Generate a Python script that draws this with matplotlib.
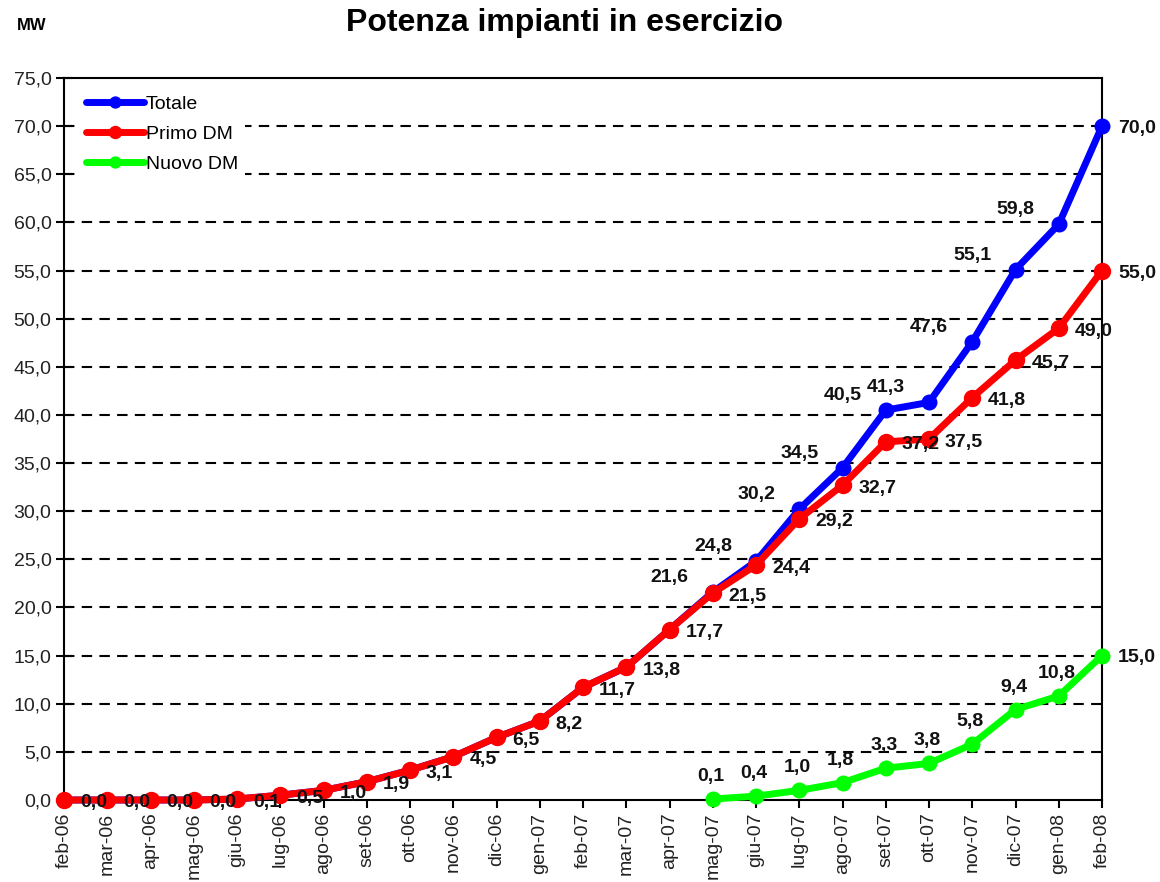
import matplotlib
matplotlib.use("Agg")
import matplotlib.pyplot as plt
from matplotlib.ticker import FuncFormatter, MultipleLocator

plt.rcParams['font.family'] = ['Liberation Sans', 'DejaVu Sans']

months = ["feb-06", "mar-06", "apr-06", "mag-06", "giu-06", "lug-06", "ago-06",
          "set-06", "ott-06", "nov-06", "dic-06", "gen-07", "feb-07", "mar-07",
          "apr-07", "mag-07", "giu-07", "lug-07", "ago-07", "set-07", "ott-07",
          "nov-07", "dic-07", "gen-08", "feb-08"]

primo_dm = [0.0, 0.0, 0.0, 0.0, 0.1, 0.5, 1.0, 1.9, 3.1, 4.5, 6.5, 8.2, 11.7,
            13.8, 17.7, 21.5, 24.4, 29.2, 32.7, 37.2, 37.5, 41.8, 45.7, 49.0, 55.0]
totale = [0.0, 0.0, 0.0, 0.0, 0.1, 0.5, 1.0, 1.9, 3.1, 4.5, 6.5, 8.2, 11.7,
          13.8, 17.7, 21.6, 24.8, 30.2, 34.5, 40.5, 41.3, 47.6, 55.1, 59.8, 70.0]
nuovo_months = ["mag-07", "giu-07", "lug-07", "ago-07", "set-07", "ott-07",
                "nov-07", "dic-07", "gen-08", "feb-08"]
nuovo_dm = [0.1, 0.4, 1.0, 1.8, 3.3, 3.8, 5.8, 9.4, 10.8, 15.0]

def fmt(v):
    return f"{v:.1f}".replace(".", ",")

fig = plt.figure(figsize=(11.6, 8.82), dpi=100)
ax = fig.add_axes([64/1160, 1-800/882, (1102-64)/1160, (800-78)/882])

x = list(range(len(months)))
xn = [months.index(m) for m in nuovo_months]

ax.plot(x, totale, color="#0000FF", lw=5, marker="o", ms=10.5, label="Totale",
        solid_capstyle="round", zorder=3, clip_on=False)
ax.plot(x, primo_dm, color="#FF0000", lw=5, marker="o", ms=11.5, label="Primo DM",
        solid_capstyle="round", zorder=4, clip_on=False)
ax.plot(xn, nuovo_dm, color="#00FF00", lw=5, marker="o", ms=10.5, label="Nuovo DM",
        solid_capstyle="round", zorder=5, clip_on=False)

lab_kw = dict(textcoords="offset pixels", fontsize=14, fontweight="bold",
              color="#111111", zorder=6, annotation_clip=False)
# Primo DM labels: right of points
for xi, v in zip(x, primo_dm):
    ax.annotate(fmt(v), (xi, v), xytext=(16, -3), ha="left", va="center", **lab_kw)
# Totale labels (from mag-07): above-left, last to the right
start = months.index("mag-07")
for xi, v in zip(x[start:], totale[start:]):
    if xi == len(months) - 1:
        ax.annotate(fmt(v), (xi, v), xytext=(16, -2), ha="left", va="center", **lab_kw)
    else:
        ax.annotate(fmt(v), (xi, v), xytext=(-24, 6), ha="right", va="bottom", **lab_kw)
# Nuovo DM labels: above, last to the right
for xi, v in zip(xn, nuovo_dm):
    if xi == len(months) - 1:
        ax.annotate(fmt(v), (xi, v), xytext=(16, -2), ha="left", va="center", **lab_kw)
    else:
        ax.annotate(fmt(v), (xi, v), xytext=(-2, 14), ha="center", va="bottom", **lab_kw)

ax.set_xlim(0, len(months) - 1)
ax.set_ylim(0, 75)
ax.yaxis.set_major_locator(MultipleLocator(5))
ax.yaxis.set_major_formatter(FuncFormatter(lambda v, p: fmt(v)))
ax.set_xticks(x)
ax.set_xticklabels(months, rotation=90, fontsize=14, color="#222222")
ax.tick_params(axis="y", direction="inout", length=12, width=1.5, labelsize=14,
               labelcolor="#222222", pad=3)
ax.tick_params(axis="x", direction="out", length=6, width=1.5, pad=3)
for s in ax.spines.values():
    s.set_linewidth(1.5)
    s.set_color("black")

for yv in range(5, 75, 5):
    ax.axhline(yv, color="black", lw=1.5, ls=(0, (5, 3.5)), zorder=1)

leg = ax.legend(loc="upper left", bbox_to_anchor=(0.015, 0.986), borderaxespad=0,
                frameon=True, fancybox=False, edgecolor="none", facecolor="white",
                framealpha=1, fontsize=14, handlelength=2.95, handletextpad=0.1,
                labelspacing=0.65, markerscale=0.75, borderpad=0.35)
leg.set_zorder(7)

fig.text(564/1160, 1-23/882, "Potenza impianti in esercizio", ha="center", va="center",
         fontsize=23, fontweight="bold")
fig.text(32/1160, 1-26/882, "MW", ha="center", va="center", fontsize=12,
         fontweight="bold")

fig.savefig("out.png", dpi=100)
